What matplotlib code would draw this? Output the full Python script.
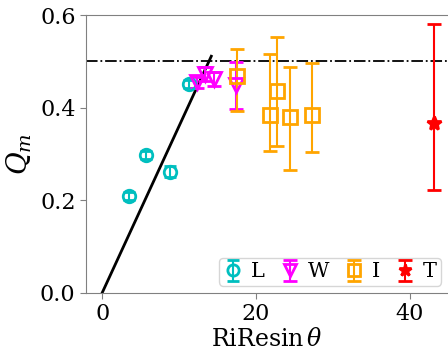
import matplotlib
matplotlib.use('Agg')
import matplotlib.pyplot as plt

plt.rcParams['font.family'] = 'DejaVu Serif'
plt.rcParams['mathtext.fontset'] = 'dejavuserif'

# L series
L_x = [3.5, 5.7, 8.8, 11.3]
L_y = [0.209, 0.298, 0.262, 0.451]
L_err = [0.008, 0.008, 0.012, 0.008]

# W series
W_x = [12.3, 13.4, 14.5, 17.4]
W_y = [0.455, 0.472, 0.462, 0.448]
W_err = [0.012, 0.015, 0.015, 0.05]

# I series
I_x = [17.5, 21.8, 22.7, 24.4, 27.3]
I_y = [0.468, 0.385, 0.437, 0.380, 0.384]
I_lo = [0.392, 0.306, 0.317, 0.265, 0.304]
I_hi = [0.527, 0.516, 0.552, 0.488, 0.496]

# T series
T_x = [43.2]
T_y = [0.367]
T_lo = [0.222]
T_hi = [0.580]

slope = 0.036
line_x = [0, 14.2]

fig = plt.figure(figsize=(4.48, 3.52), dpi=100)
ax = fig.add_axes([0.192, 0.168, 0.808, 0.789])

ax.plot(line_x, [slope * v for v in line_x], color='black', lw=2, zorder=1)
ax.axhline(0.5, color='black', ls='-.', lw=1.3, zorder=1)

ax.errorbar(L_x, L_y, yerr=L_err, fmt='o', color='c', mfc='none', mew=2,
            ms=9, capsize=4, elinewidth=1.5, capthick=2, label='L')
ax.errorbar(W_x, W_y, yerr=W_err, fmt='v', color='magenta', mfc='none', mew=2,
            ms=10, capsize=5, elinewidth=1.5, capthick=2, label='W')
I_err = [[y - l for y, l in zip(I_y, I_lo)], [h - y for y, h in zip(I_y, I_hi)]]
ax.errorbar(I_x, I_y, yerr=I_err, fmt='s', color='orange', mfc='none', mew=2,
            ms=10, capsize=5, elinewidth=1.5, capthick=2, label='I')
T_err = [[y - l for y, l in zip(T_y, T_lo)], [h - y for y, h in zip(T_y, T_hi)]]
ax.errorbar(T_x, T_y, yerr=T_err, fmt='*', color='red', mfc='red', mew=2,
            ms=10, capsize=5, elinewidth=1.5, capthick=2, label='T')

ax.set_xlim(-2.1, 45)
ax.set_ylim(0, 0.6)
ax.set_xticks([0, 20, 40])
ax.set_yticks([0.0, 0.2, 0.4, 0.6])
ax.set_xlabel(r'$\mathrm{RiRe}\sin\theta$', fontsize=17, labelpad=2)
ax.set_ylabel(r'$Q_m$', fontsize=20, labelpad=4)
ax.tick_params(axis='both', labelsize=16, color='gray', length=4)

ax.spines['right'].set_visible(False)
for s in ['left', 'top', 'bottom']:
    ax.spines[s].set_color('gray')

ax.legend(loc='lower right', ncol=4, fontsize=15, handletextpad=0.35,
          columnspacing=0.7, handlelength=1.0, borderpad=0.2,
          borderaxespad=0.35, markerscale=0.9)

fig.savefig('out.png', dpi=100)
